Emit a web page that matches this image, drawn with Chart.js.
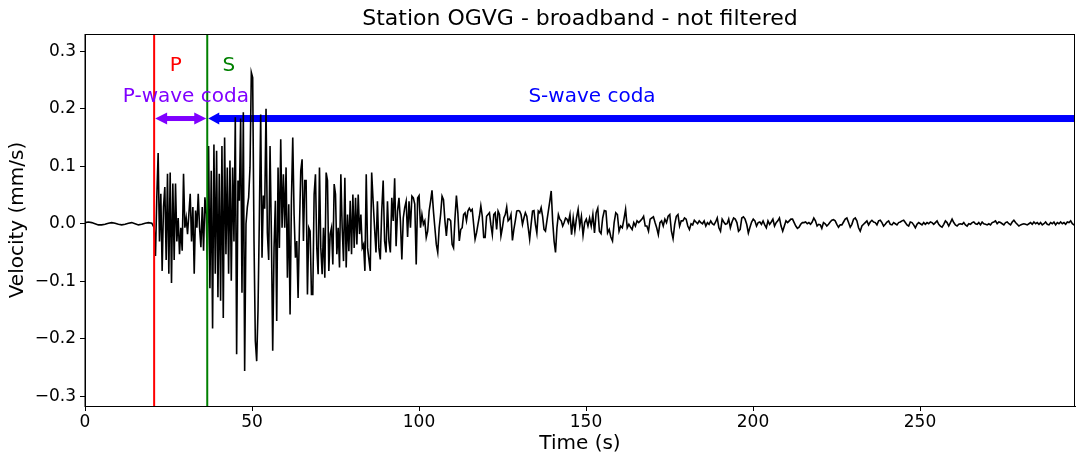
<!DOCTYPE html>
<html>
<head>
<meta charset="utf-8">
<title>Station OGVG</title>
<script src="https://cdn.jsdelivr.net/npm/chart.js@4.4.1/dist/chart.umd.min.js"></script>
<style>
  html, body { margin: 0; padding: 0; background: #fff; }
  #wrap { width: 1076px; height: 457px; }
</style>
</head>
<body>
<div id="wrap"><canvas id="seismo" width="1076" height="457"></canvas></div>
<script>
// --- waveform, velocity in mm/s ---
// before the P arrival (t = 0 s, one sample per second)
const quietStart = 0, quietStep = 1;
const quietVelocity = [0.002, 0.003, 0.002, 0.0, -0.002, -0.002, -0.001, 0.001, 0.002, 0.001, -0.001,
  -0.002, -0.001, 0.001, 0.002, 0.0, -0.002, -0.001, 0.001, 0.002, 0.001];

// P-wave coda
const pCodaStart = 20.7, pCodaStep = 0.4;
const pCodaVelocity = [-0.007, -0.056, 0.046, 0.123, -0.031, 0.052, -0.082, 0.029, 0.064, -0.063,
  0.087, -0.087, 0.089, -0.103, 0.070, -0.063, 0.070, -0.031, 0.010, -0.053,
  -0.007, -0.047, 0.087, -0.007, 0.010, -0.018, 0.017, 0.052, -0.031, 0.029,
  -0.087, 0.023, -0.007, 0.052, -0.007, -0.041, 0.029, -0.047, 0.046, 0.017];

// S arrival and strongest shaking
const sWaveStart = 36.6, sWaveStep = 0.4;
const sWaveVelocity = [-0.063, 0.135, -0.112, 0.092, -0.182, 0.138, -0.087, 0.127, -0.128, 0.087,
  -0.134, 0.135, -0.164, 0.150, -0.053, 0.098, -0.087, 0.110, -0.099, 0.098,
  -0.031, 0.185, -0.227, 0.075, 0.040, 0.183, -0.120, 0.194, -0.256, 0.0,
  0.029, 0.046, 0.098, 0.263, 0.254, -0.030, -0.204, -0.239, -0.150, 0.010,
  0.190, -0.059, 0.049, 0.026, 0.200, -0.016, -0.063, 0.135, -0.018, -0.221,
  -0.042, 0.040, -0.169, 0.098, -0.042, 0.147, -0.007, 0.086, -0.007, 0.098,
  -0.094, 0.034, -0.158, 0.040, 0.150, 0.016, -0.059, -0.030, -0.129, -0.007,
  0.092, 0.112, -0.030, 0.075, 0.075, -0.123, -0.007, -0.013, -0.123, -0.123,
  0.051, 0.086, -0.042, -0.088, 0.098, -0.042, -0.088, -0.007, -0.094, 0.089,
  0.075, -0.082, -0.018, -0.007, -0.071, 0.069, 0.051, -0.053, -0.007, -0.076,
  0.086, -0.007, -0.065, 0.080, -0.076, 0.016, -0.048, 0.040, -0.053, 0.051,
  -0.042, 0.045, -0.036, 0.051, -0.018, 0.016, -0.042, -0.036, -0.082, 0.086,
  -0.042];

// S coda, first part
const codaAStart = 85.4, codaAStep = 0.43;
const codaAVelocity = [-0.082, 0.089, 0.039, -0.007, -0.050, 0.039, -0.042, -0.062, 0.022, 0.075,
  -0.030, -0.050, 0.039, -0.030, -0.050, 0.045, 0.005, 0.079, -0.039, 0.022,
  0.045, 0.005, -0.062, 0.010, 0.028, 0.039, -0.023, 0.039, -0.007, 0.048,
  0.045, 0.034, -0.071, 0.045, 0.049, -0.007, 0.016, -0.001, 0.005, -0.024,
  -0.013, 0.022, 0.039, 0.058, 0.022, -0.007, -0.036, -0.050, -0.007, 0.016,
  0.048, 0.042, 0.005, -0.021, 0.008, 0.008, 0.005, -0.036, -0.042, 0.010,
  0.049, 0.019, -0.030, -0.010, -0.007, 0.016, 0.019, 0.005, 0.022, 0.027,
  0.022, 0.025, -0.001, -0.027, -0.016, -0.001, 0.013, 0.031, 0.013, -0.024,
  -0.024, 0.013, 0.016, 0.019, -0.002, -0.019, 0.016, 0.019, -0.010, 0.022,
  0.016, -0.021, -0.007, 0.010, 0.016, 0.029, 0.005, 0.008, 0.016, -0.029,
  -0.010, 0.005, 0.022, 0.023, 0.022, 0.016, -0.001, 0.010, 0.019, 0.013,
  -0.007, -0.027, -0.001, 0.022, 0.023, -0.001, -0.016, 0.022, 0.019, 0.028,
  0.013, -0.010, -0.013, 0.005, 0.022, 0.039, 0.057, 0.005, -0.030, -0.050,
  -0.007, 0.016, 0.008, 0.005, -0.004, 0.002, 0.010, 0.008];

// S coda, second part
const codaBStart = 144.7, codaBStep = 0.49;
const codaBVelocity = [0.002, 0.016, -0.019, 0.010, -0.013, 0.010, 0.025, -0.004, 0.013, -0.020,
  0.002, 0.008, -0.004, 0.010, -0.004, 0.016, -0.016, 0.019, 0.027, -0.013,
  -0.017, 0.010, 0.023, 0.022, -0.016, -0.010, -0.023, -0.030, 0.002, 0.019,
  0.016, -0.013, -0.004, -0.007, 0.008, 0.025, -0.007, -0.001, -0.006, -0.010,
  0.002, -0.004, 0.005, 0.002, 0.005, 0.008, 0.013, -0.004, -0.004, -0.013,
  0.008, 0.010, 0.012, 0.002, -0.007, -0.019, 0.002, 0.005, -0.004, 0.008,
  0.002, 0.013, 0.016, -0.013, -0.026, -0.001, 0.013, 0.016, -0.004, 0.005,
  0.005, 0.010, 0.008, -0.004, -0.010, 0.0, -0.002, 0.006, 0.003, 0.0,
  0.005, 0.002, 0.0, 0.005, -0.004, 0.002, -0.001, 0.005, 0.0, -0.002,
  0.003, 0.010, -0.007, -0.013, 0.008, 0.003, -0.001, 0.0, 0.008, -0.007,
  0.003, 0.010, 0.008, 0.002, -0.013, -0.010, 0.010, 0.012, 0.008, -0.001,
  -0.016, -0.006, 0.003, 0.008, 0.005, -0.004, 0.002, 0.003, -0.001, 0.005,
  -0.002, -0.007, 0.005, -0.001, 0.003, 0.008, -0.004, 0.002, 0.005, 0.010,
  -0.004, -0.013, -0.004, 0.005, 0.002, 0.005, 0.008, 0.008, 0.002, -0.004,
  -0.008, -0.006, -0.001, 0.002, 0.002, 0.003, 0.0, 0.002, -0.001, 0.003,
  0.010, 0.005, -0.004, -0.001, -0.002];

// late coda
const codaCStart = 220.6, codaCStep = 0.5;
const codaCVelocity = [-0.008, 0.002, 0.0, -0.004, -0.001, 0.003, 0.006, 0.007, 0.005, -0.001,
  -0.006, -0.002, -0.002, 0.003, 0.008, 0.010, 0.002, -0.006, -0.001, 0.008,
  0.010, 0.005, -0.007, -0.013, -0.004, -0.001, 0.002, 0.005, -0.002, 0.003,
  0.006, 0.003, 0.002, -0.002, 0.005, 0.006, 0.002, -0.004, -0.001, 0.003,
  0.005, -0.001, -0.002, 0.002, 0.0, -0.002, 0.002, 0.003, 0.005, 0.006,
  0.002, -0.002, -0.004, 0.003, 0.002, -0.002, -0.007, -0.001, 0.002, 0.0,
  -0.002, 0.002, -0.001, 0.002, 0.0, 0.003, 0.002, -0.001, 0.002, 0.005,
  -0.001, -0.004, -0.006, -0.001, 0.005, 0.002, -0.004, 0.002, 0.008, 0.002,
  -0.002, -0.004, -0.001, 0.0, -0.001, 0.002, -0.002, -0.004, 0.0, -0.001,
  0.002, 0.003, 0.0, -0.001, 0.002, -0.002, 0.003, 0.0, -0.001, -0.002,
  0.0, -0.002, 0.002, 0.003, 0.005, 0.0, 0.003, 0.002, 0.0, -0.002,
  0.002, 0.003, 0.0, -0.002, 0.003, 0.006, 0.002, -0.001, -0.004, -0.002,
  -0.001, 0.0, -0.001, -0.002, 0.0, 0.002, -0.001, 0.003, 0.0, 0.002,
  -0.001, 0.002, -0.002, 0.0, 0.003, -0.001, -0.002, 0.002, 0.0, 0.003,
  -0.002, 0.002, 0.0, 0.003, 0.0, 0.002, -0.001, 0.003, 0.002, 0.005,
  0.0, -0.002, -0.001];

// phase picks and annotations
const chartTitle = 'Station OGVG - broadband - not filtered';
const phaseNames = ['P', 'S'];
const phaseTimes = [20.7, 36.6];
const phaseColors = ['#ff0000', '#008000'];
const phaseLabelTimes = [27.2, 43.1];
const phaseLabelVel = 0.274;
const codaNames = ['P-wave coda', 'S-wave coda'];
const codaLabelTimes = [30.2, 151.8];
const codaLabelVel = 0.22;
const codaColors = ['#7f00ff', '#0000ff'];
const codaArrowVel = 0.183;
const timeEnd = 296.4;

const xTicks = [0, 50, 100, 150, 200, 250];
const yTicks = [-0.3, -0.2, -0.1, 0.0, 0.1, 0.2, 0.3];

const segments = [
  [quietStart, quietStep, quietVelocity],
  [pCodaStart, pCodaStep, pCodaVelocity],
  [sWaveStart, sWaveStep, sWaveVelocity],
  [codaAStart, codaAStep, codaAVelocity],
  [codaBStart, codaBStep, codaBVelocity],
  [codaCStart, codaCStep, codaCVelocity]
];

const trace = [];
segments.forEach(function(seg) {
  seg[2].forEach(function(v, i) {
    trace.push({ x: +(seg[0] + i * seg[1]).toFixed(3), y: v });
  });
});

const FONT = '"DejaVu Sans", "Liberation Sans", sans-serif';
const minus = function(s) { return s.replace('-', '\u2212'); };

function arrowHead(ctx, xTip, y, dir, len, half) {
  ctx.beginPath();
  ctx.moveTo(xTip, y);
  ctx.lineTo(xTip + dir * len, y - half);
  ctx.lineTo(xTip + dir * len, y + half);
  ctx.closePath();
  ctx.fill();
}

// arrows go under the trace, as in the original
const arrowPlugin = {
  id: 'codaArrows',
  beforeDatasetsDraw(chart) {
    const { ctx, chartArea: a, scales: { x, y } } = chart;
    const yy = y.getPixelForValue(codaArrowVel);
    const xp = x.getPixelForValue(phaseTimes[0]);
    const xs = x.getPixelForValue(phaseTimes[1]);
    const xe = x.getPixelForValue(timeEnd);
    ctx.save();
    ctx.beginPath();
    ctx.rect(a.left, a.top, a.right - a.left, a.bottom - a.top);
    ctx.clip();
    // P-wave coda, double headed
    ctx.fillStyle = codaColors[0];
    ctx.fillRect(xp + 10, yy - 2.5, xs - xp - 20, 5);
    arrowHead(ctx, xp + 1, yy, 1, 12, 6);
    arrowHead(ctx, xs - 1, yy, -1, 12, 6);
    // S-wave coda, runs off the right edge
    ctx.fillStyle = codaColors[1];
    ctx.fillRect(xs + 9, yy - 3.5, xe - xs, 7);
    arrowHead(ctx, xs + 1, yy, 1, 11, 6);
    ctx.restore();
  },
  afterDatasetsDraw(chart) {
    const { ctx, chartArea: a, scales: { x, y } } = chart;
    ctx.save();
    // phase picks
    ctx.lineWidth = 2;
    phaseTimes.forEach(function(t, i) {
      const px = x.getPixelForValue(t);
      ctx.strokeStyle = phaseColors[i];
      ctx.beginPath();
      ctx.moveTo(px, a.top);
      ctx.lineTo(px, a.bottom);
      ctx.stroke();
    });
    // labels
    ctx.font = '20px ' + FONT;
    ctx.textAlign = 'center';
    ctx.textBaseline = 'middle';
    phaseNames.forEach(function(n, i) {
      ctx.fillStyle = phaseColors[i];
      ctx.fillText(n, x.getPixelForValue(phaseLabelTimes[i]), y.getPixelForValue(phaseLabelVel));
    });
    codaNames.forEach(function(n, i) {
      ctx.fillStyle = codaColors[i];
      ctx.fillText(n, x.getPixelForValue(codaLabelTimes[i]), y.getPixelForValue(codaLabelVel));
    });
    // full box round the axes
    ctx.strokeStyle = '#000';
    ctx.lineWidth = 1;
    ctx.strokeRect(a.left, a.top + 0.5, a.right - a.left - 0.5, a.bottom - a.top);
    // title centred over the axes, like matplotlib
    ctx.fillStyle = '#000';
    ctx.font = '22px ' + FONT;
    ctx.fillText(chartTitle, (a.left + a.right) / 2, 19);
    ctx.restore();
  }
};

new Chart(document.getElementById('seismo'), {
  type: 'line',
  data: {
    datasets: [{
      data: trace,
      borderColor: '#000',
      borderWidth: 1.6,
      pointRadius: 0,
      tension: 0,
      fill: false
    }]
  },
  options: {
    responsive: false,
    animation: false,
    devicePixelRatio: 1,
    layout: { padding: { left: 0, right: 1, top: 34, bottom: 0 } },
    plugins: {
      legend: { display: false },
      tooltip: { enabled: false },
      title: { display: false }
    },
    scales: {
      x: {
        type: 'linear',
        min: 0,
        max: timeEnd,
        afterFit(s) { s.height = 51; },
        afterBuildTicks(s) { s.ticks = xTicks.map(function(v) { return { value: v }; }); },
        grid: { drawOnChartArea: false, tickLength: 5, color: '#000' },
        border: { color: '#000', width: 1 },
        ticks: {
          color: '#000', padding: 1, maxRotation: 0,
          font: { family: FONT, size: 17 },
          callback: function(v) { return String(v); }
        },
        title: {
          display: true, text: 'Time (s)', color: '#000',
          font: { family: FONT, size: 20 }, padding: { top: 0, bottom: 1 }
        }
      },
      y: {
        type: 'linear',
        min: -0.317,
        max: 0.330,
        afterFit(s) { s.width = 85; },
        afterBuildTicks(s) { s.ticks = yTicks.map(function(v) { return { value: v }; }); },
        grid: { drawOnChartArea: false, tickLength: 5, color: '#000' },
        border: { color: '#000', width: 1 },
        ticks: {
          color: '#000', padding: 4,
          font: { family: FONT, size: 17 },
          callback: function(v) { return minus(v.toFixed(1)); }
        },
        title: {
          display: true, text: 'Velocity (mm/s)', color: '#000',
          font: { family: FONT, size: 20 }, padding: { top: 6, bottom: 0 }
        }
      }
    }
  },
  plugins: [arrowPlugin]
});
</script>
</body>
</html>
